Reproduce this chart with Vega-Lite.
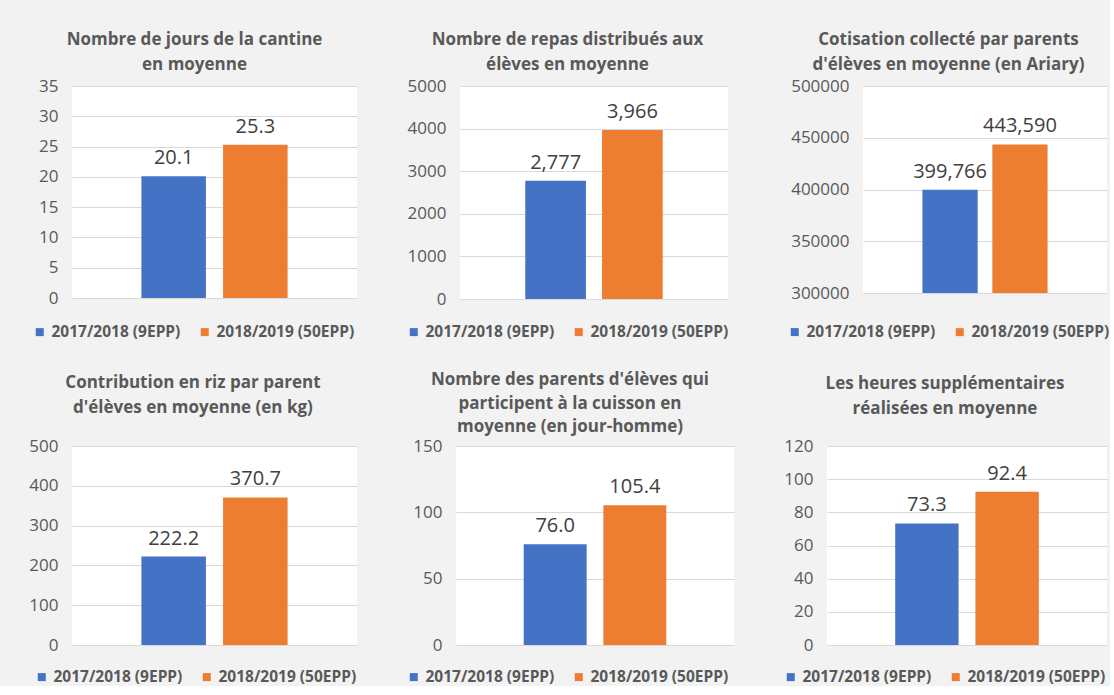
{
  "$schema": "https://vega.github.io/schema/vega-lite/v6.json",
  "background": "#f2f2f2",
  "padding": {"left": 28, "top": 31, "right": 0, "bottom": 0},
  "datasets": {
    "d": [
      {"indicateur": "jours", "periode": "2017/2018 (9EPP)", "valeur": 20.1},
      {"indicateur": "jours", "periode": "2018/2019 (50EPP)", "valeur": 25.3},
      {"indicateur": "repas", "periode": "2017/2018 (9EPP)", "valeur": 2777},
      {"indicateur": "repas", "periode": "2018/2019 (50EPP)", "valeur": 3966},
      {"indicateur": "cotisation", "periode": "2017/2018 (9EPP)", "valeur": 399766},
      {"indicateur": "cotisation", "periode": "2018/2019 (50EPP)", "valeur": 443590},
      {"indicateur": "riz", "periode": "2017/2018 (9EPP)", "valeur": 222.2},
      {"indicateur": "riz", "periode": "2018/2019 (50EPP)", "valeur": 370.7},
      {"indicateur": "parents", "periode": "2017/2018 (9EPP)", "valeur": 76.0},
      {"indicateur": "parents", "periode": "2018/2019 (50EPP)", "valeur": 105.4},
      {"indicateur": "heures", "periode": "2017/2018 (9EPP)", "valeur": 73.3},
      {"indicateur": "heures", "periode": "2018/2019 (50EPP)", "valeur": 92.4}
    ]
  },
  "data": {"name": "d"},
  "columns": 3,
  "align": {"row": "each", "column": "none"},
  "spacing": {"row": 30, "column": 49},
  "resolve": {"scale": {"color": "independent", "y": "independent", "x": "independent"}, "legend": {"color": "independent"}},
  "concat": [
    {
      "width": 285, "height": 212,
      "title": {"text": ["Nombre de jours de la cantine", "en moyenne"], "offset": 3},
      "transform": [{"filter": "datum.indicateur === 'jours'"}],
      "encoding": {
        "x": {"field": "periode", "type": "nominal", "axis": null, "scale": {"paddingInner": 0.21, "paddingOuter": 0.85}},
        "y": {"field": "valeur", "type": "quantitative", "title": null, "scale": {"domain": [0, 35]}, "axis": {"values": [0, 5, 10, 15, 20, 25, 30, 35]}}
      },
      "layer": [
        {"mark": {"type": "bar"}, "encoding": {"color": {"field": "periode", "type": "nominal", "title": null, "scale": {"domain": ["2017/2018 (9EPP)", "2018/2019 (50EPP)"], "range": ["#4472C4", "#ED7D31"]}, "legend": {"orient": "none", "legendX": -40, "legendY": 238}}}},
        {"mark": {"type": "text", "baseline": "bottom", "dy": -8, "fontSize": 20, "color": "#404040"}, "encoding": {"text": {"field": "valeur", "type": "quantitative", "format": ".1f"}}}
      ]
    },
    {
      "width": 268, "height": 213,
      "title": {"text": ["Nombre de repas distribués aux", "élèves en moyenne"], "offset": 3},
      "transform": [{"filter": "datum.indicateur === 'repas'"}],
      "encoding": {
        "x": {"field": "periode", "type": "nominal", "axis": null, "scale": {"paddingInner": 0.21, "paddingOuter": 0.85}},
        "y": {"field": "valeur", "type": "quantitative", "title": null, "scale": {"domain": [0, 5000]}, "axis": {"values": [0, 1000, 2000, 3000, 4000, 5000], "format": "d"}}
      },
      "layer": [
        {"mark": {"type": "bar"}, "encoding": {"color": {"field": "periode", "type": "nominal", "title": null, "scale": {"domain": ["2017/2018 (9EPP)", "2018/2019 (50EPP)"], "range": ["#4472C4", "#ED7D31"]}, "legend": {"orient": "none", "legendX": -54, "legendY": 238}}}},
        {"mark": {"type": "text", "baseline": "bottom", "dy": -8, "fontSize": 20, "color": "#404040"}, "encoding": {"text": {"field": "valeur", "type": "quantitative", "format": ",.0f"}}}
      ]
    },
    {
      "width": 244, "height": 207,
      "title": {"text": ["Cotisation  collecté par parents", "d'élèves en moyenne (en Ariary)"], "offset": 3},
      "transform": [{"filter": "datum.indicateur === 'cotisation'"}],
      "encoding": {
        "x": {"field": "periode", "type": "nominal", "axis": null, "scale": {"paddingInner": 0.21, "paddingOuter": 0.85}},
        "y": {"field": "valeur", "type": "quantitative", "title": null, "scale": {"domain": [300000, 500000], "zero": false}, "axis": {"values": [300000, 350000, 400000, 450000, 500000], "format": "d"}}
      },
      "layer": [
        {"mark": {"type": "bar"}, "encoding": {"y2": {"datum": 300000}, "color": {"field": "periode", "type": "nominal", "title": null, "scale": {"domain": ["2017/2018 (9EPP)", "2018/2019 (50EPP)"], "range": ["#4472C4", "#ED7D31"]}, "legend": {"orient": "none", "legendX": -76, "legendY": 238}}}},
        {"mark": {"type": "text", "baseline": "bottom", "dy": -8, "fontSize": 20, "color": "#404040"}, "encoding": {"text": {"field": "valeur", "type": "quantitative", "format": ",.0f"}}}
      ]
    },
    {
      "width": 285, "height": 199,
      "title": {"text": ["Contribution  en riz par parent", "d'élèves en moyenne (en kg)"], "offset": 20},
      "transform": [{"filter": "datum.indicateur === 'riz'"}],
      "encoding": {
        "x": {"field": "periode", "type": "nominal", "axis": null, "scale": {"paddingInner": 0.21, "paddingOuter": 0.85}},
        "y": {"field": "valeur", "type": "quantitative", "title": null, "scale": {"domain": [0, 500]}, "axis": {"values": [0, 100, 200, 300, 400, 500]}}
      },
      "layer": [
        {"mark": {"type": "bar"}, "encoding": {"color": {"field": "periode", "type": "nominal", "title": null, "scale": {"domain": ["2017/2018 (9EPP)", "2018/2019 (50EPP)"], "range": ["#4472C4", "#ED7D31"]}, "legend": {"orient": "none", "legendX": -38, "legendY": 223}}}},
        {"mark": {"type": "text", "baseline": "bottom", "dy": -8, "fontSize": 20, "color": "#404040"}, "encoding": {"text": {"field": "valeur", "type": "quantitative", "format": ".1f"}}}
      ]
    },
    {
      "width": 278, "height": 199,
      "title": {"text": ["Nombre des parents d'élèves qui", "participent à la cuisson en", "moyenne (en jour-homme)"], "offset": 1, "lineHeight": 23.5},
      "transform": [{"filter": "datum.indicateur === 'parents'"}],
      "encoding": {
        "x": {"field": "periode", "type": "nominal", "axis": null, "scale": {"paddingInner": 0.21, "paddingOuter": 0.85}},
        "y": {"field": "valeur", "type": "quantitative", "title": null, "scale": {"domain": [0, 150]}, "axis": {"values": [0, 50, 100, 150]}}
      },
      "layer": [
        {"mark": {"type": "bar"}, "encoding": {"color": {"field": "periode", "type": "nominal", "title": null, "scale": {"domain": ["2017/2018 (9EPP)", "2018/2019 (50EPP)"], "range": ["#4472C4", "#ED7D31"]}, "legend": {"orient": "none", "legendX": -50, "legendY": 223}}}},
        {"mark": {"type": "text", "baseline": "bottom", "dy": -8, "fontSize": 20, "color": "#404040"}, "encoding": {"text": {"field": "valeur", "type": "quantitative", "format": ".1f"}}}
      ]
    },
    {
      "width": 280, "height": 199,
      "title": {"text": ["Les heures supplémentaires", "réalisées en moyenne"], "offset": 19},
      "transform": [{"filter": "datum.indicateur === 'heures'"}],
      "encoding": {
        "x": {"field": "periode", "type": "nominal", "axis": null, "scale": {"paddingInner": 0.21, "paddingOuter": 0.85}},
        "y": {"field": "valeur", "type": "quantitative", "title": null, "scale": {"domain": [0, 120]}, "axis": {"values": [0, 20, 40, 60, 80, 100, 120]}}
      },
      "layer": [
        {"mark": {"type": "bar"}, "encoding": {"color": {"field": "periode", "type": "nominal", "title": null, "scale": {"domain": ["2017/2018 (9EPP)", "2018/2019 (50EPP)"], "range": ["#4472C4", "#ED7D31"]}, "legend": {"orient": "none", "legendX": -44, "legendY": 223}}}},
        {"mark": {"type": "text", "baseline": "bottom", "dy": -8, "fontSize": 20, "color": "#404040"}, "encoding": {"text": {"field": "valeur", "type": "quantitative", "format": ".1f"}}}
      ]
    }
  ],
  "config": {
    "font": "Open Sans",
    "view": {"fill": "white", "stroke": null},
    "title": {"font": "Open Sans", "fontSize": 17, "fontWeight": "bold", "color": "#595959", "lineHeight": 25, "anchor": "middle", "frame": "bounds"},
    "axis": {"labelFont": "Open Sans", "labelFontSize": 17, "labelColor": "#595959", "grid": true, "gridColor": "#d9d9d9", "ticks": false, "domain": false, "labelPadding": 14},
    "legend": {"direction": "horizontal", "labelFont": "Open Sans", "labelFontSize": 15.5, "labelFontWeight": "bold", "labelColor": "#595959", "symbolType": "square", "symbolSize": 64, "symbolStrokeWidth": 0, "labelOffset": 4, "columnPadding": 16, "padding": 0},
    "text": {"font": "Open Sans"}
  }
}
